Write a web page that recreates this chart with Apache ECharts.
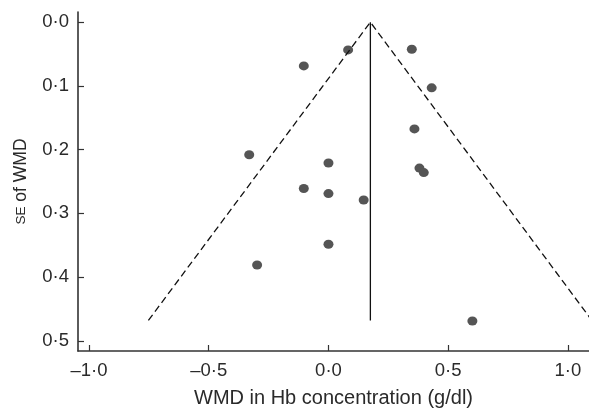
<!DOCTYPE html>
<html>
<head>
<meta charset="utf-8">
<script src="https://cdn.jsdelivr.net/npm/echarts@6/dist/echarts.min.js"></script>
<style>html,body{margin:0;padding:0;background:#fff}#c{width:589px;height:410px}</style>
</head>
<body>
<div id="c"></div>
<script>
// Study estimates: WMD (g/dl) and its standard error
const wmd = [0.082, 0.348, -0.103, 0.431, 0.359, -0.331, 0.0, 0.380, 0.398, -0.103, 0.0, 0.147, 0.0, -0.298, 0.601];
const se  = [0.0435, 0.0424, 0.0686, 0.103, 0.1675, 0.208, 0.221, 0.229, 0.236, 0.261, 0.269, 0.279, 0.3485, 0.381, 0.469];
// Pooled estimate and funnel limits
const pooledX = [0.175, 0.175];
const pooledY = [0, 0.468];
const funnelX = [-0.752, 0.175, 1.10];
const funnelY = [0.468, 0, 0.468];
const xTicks = [-1.0, -0.5, 0.0, 0.5, 1.0];
const yTicks = [0.0, 0.1, 0.2, 0.3, 0.4, 0.5];

const fmt = v => v.toFixed(1).replace('.', '\u00B7').replace('-', '\u2013');
const textColor = '#2a2a2a';
const font = 'Liberation Sans, Arial, sans-serif';

const chart = echarts.init(document.getElementById('c'));
chart.setOption({
  animation: false,
  grid: { left: 78, right: 0, top: 12, bottom: 59, containLabel: false, outerBoundsMode: 'none' },
  xAxis: {
    type: 'value', min: -1.046, max: 1.088,
    axisLine: { onZero: false, lineStyle: { color: '#333', width: 1.6 } },
    axisTick: { inside: true, length: 6, customValues: xTicks, lineStyle: { color: '#333', width: 1.2 } },
    axisLabel: { customValues: xTicks, formatter: fmt, color: textColor, fontSize: 18.5, fontFamily: font, margin: 10 },
    splitLine: { show: false },
    name: 'WMD in Hb concentration (g/dl)', nameLocation: 'middle', nameGap: 37,
    nameTextStyle: { color: textColor, fontSize: 20, fontFamily: font }
  },
  yAxis: {
    type: 'value', inverse: true, min: -0.016, max: 0.516,
    axisLine: { onZero: false, lineStyle: { color: '#333', width: 1.6 } },
    axisTick: { inside: true, length: 6, customValues: yTicks, lineStyle: { color: '#333', width: 1.2 } },
    axisLabel: { customValues: yTicks, formatter: fmt, color: textColor, fontSize: 18.5, fontFamily: font, margin: 9 },
    splitLine: { show: false },
    name: '{sc|SE} of WMD', nameLocation: 'middle', nameGap: 48, nameRotate: 90,
    nameTextStyle: { color: textColor, fontSize: 17.5, fontFamily: font,
      rich: { sc: { fontSize: 13.5, color: textColor, fontFamily: font } } }
  },
  series: [
    {
      type: 'line', data: funnelX.map((x, i) => [x, funnelY[i]]),
      symbol: 'none', clip: true,
      lineStyle: { color: '#111', width: 1.3, type: [7, 4] }
    },
    {
      type: 'line', data: pooledX.map((x, i) => [x, pooledY[i]]),
      symbol: 'none',
      lineStyle: { color: '#111', width: 1.3 }
    },
    {
      type: 'scatter', data: wmd.map((x, i) => [x, se[i]]),
      symbol: 'circle', symbolSize: [10, 9],
      itemStyle: { color: '#555', opacity: 1 }
    }
  ]
});
</script>
</body>
</html>
